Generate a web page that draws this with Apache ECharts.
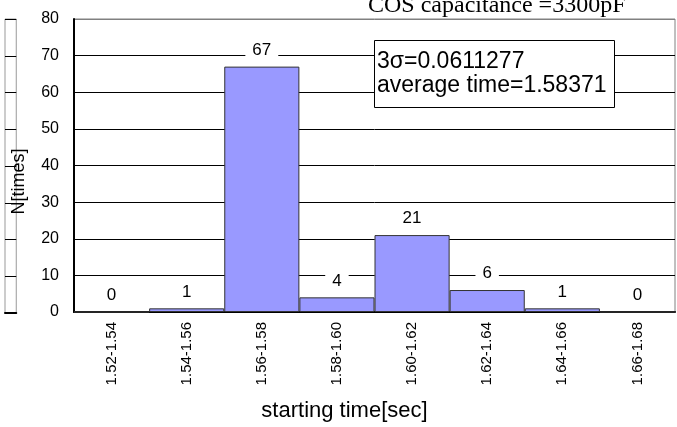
<!DOCTYPE html>
<html>
<head>
<meta charset="utf-8">
<script src="https://cdn.jsdelivr.net/npm/echarts@6/dist/echarts.min.js"></script>
<style>html,body{margin:0;padding:0;background:#fff;}#c{width:677px;height:427px;}</style>
</head>
<body>
<div id="c"></div>
<script>
var categories = ['1.52-1.54','1.54-1.56','1.56-1.58','1.58-1.60','1.60-1.62','1.62-1.64','1.64-1.66','1.66-1.68'];
var counts = [0, 1, 67, 4, 21, 6, 1, 0];
var yMin = 0, yMax = 80, yStep = 10;
var titleText = 'COS capacitance =3300pF';
var noteText = '3σ=0.0611277\naverage time=1.58371';
var xName = 'starting time[sec]';
var yName = 'N[times]';

var splitColors = [];
for (var i = 0; i <= (yMax - yMin) / yStep; i++) splitColors.push(i === (yMax - yMin) / yStep ? '#808080' : '#000');

var chart = echarts.init(document.getElementById('c'));
chart.setOption({
  animation: false,
  backgroundColor: '#fff',
  title: [
    {text: titleText, left: 368, top: -6, padding: 0,
     textStyle: {fontFamily: 'Liberation Serif', fontSize: 24, fontWeight: 'normal', color: '#000'}},
    {text: noteText, left: 374, top: 40, padding: [10, 8, 10, 3], borderColor: '#000', borderWidth: 1, backgroundColor: '#fff',
     textStyle: {fontFamily: 'Liberation Sans', fontSize: 23, fontWeight: 'normal', color: '#000', lineHeight: 24}}
  ],
  grid: [
    {left: 74, top: 19, right: 2, bottom: 114, show: true, borderColor: '#808080', borderWidth: 1},
    {left: -40, top: 19, width: 45, bottom: 114, show: true, borderColor: '#999', borderWidth: 1}
  ],
  xAxis: [
    {type: 'category', data: categories, gridIndex: 0,
     axisLine: {lineStyle: {color: '#000', width: 2}}, axisTick: {show: false},
     axisLabel: {rotate: 90, fontFamily: 'Liberation Sans', fontSize: 15, color: '#000', margin: 10},
     name: xName, nameLocation: 'middle', nameGap: 88,
     nameTextStyle: {fontFamily: 'Liberation Sans', fontSize: 22, color: '#000', padding: [0, 60, 0, 0]}},
    {type: 'value', gridIndex: 1, min: 0, max: 1, axisLine: {lineStyle: {color: '#000', width: 2}},
     axisTick: {show: false}, axisLabel: {show: false}, splitLine: {show: false}}
  ],
  yAxis: [
    {type: 'value', gridIndex: 0, min: yMin, max: yMax, interval: yStep,
     axisLine: {show: true, lineStyle: {color: '#000', width: 2}}, axisTick: {show: false},
     axisLabel: {fontFamily: 'Liberation Sans', fontSize: 16, color: '#000', margin: 15},
     splitLine: {lineStyle: {color: splitColors, width: 1}},
     name: yName, nameLocation: 'middle', nameGap: 46,
     nameTextStyle: {fontFamily: 'Liberation Sans', fontSize: 18, color: '#000', padding: [0, 32, 0, 0]}},
    {type: 'value', gridIndex: 1, min: yMin, max: yMax, interval: yStep, position: 'right',
     axisLine: {show: false}, axisTick: {show: false}, axisLabel: {show: false},
     splitLine: {lineStyle: {color: '#000', width: 1}}}
  ],
  series: [{
    type: 'bar', data: counts, xAxisIndex: 0, yAxisIndex: 0,
    barCategoryGap: '0%',
    itemStyle: {color: '#9999ff', borderColor: '#333', borderWidth: 1},
    label: {show: true, position: 'top', distance: 8, fontFamily: 'Liberation Sans', fontSize: 17, color: '#000',
            backgroundColor: '#fff', padding: [0, 7]}
  }]
});
</script>
</body>
</html>
